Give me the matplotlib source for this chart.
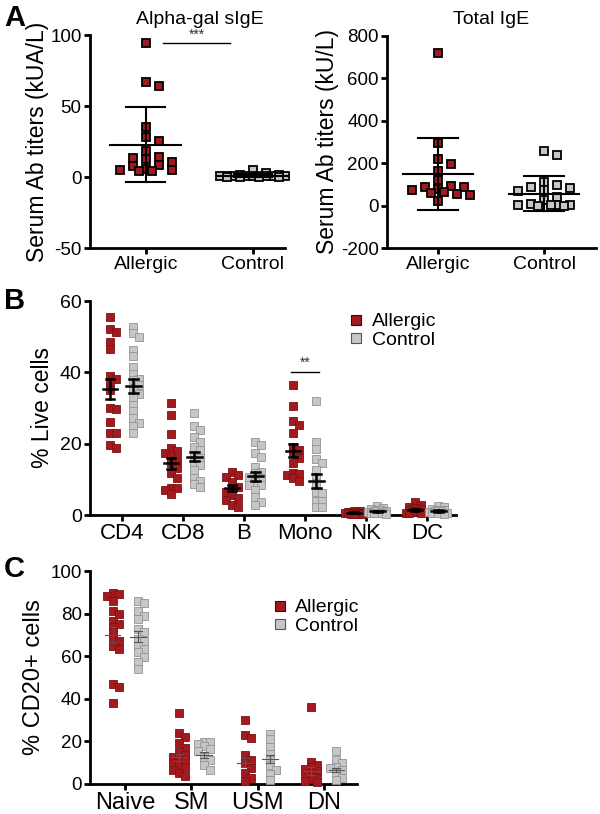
import numpy as np
import matplotlib
matplotlib.use("Agg")
import matplotlib.pyplot as plt
from matplotlib.lines import Line2D

plt.rcParams["font.family"] = ["Liberation Sans", "DejaVu Sans"]
plt.rcParams["axes.unicode_minus"] = False

ROJO = "#a3191e"
GRIS = "#c6c6c6"

# ---------------- Panel A: alpha-gal sIgE (kUA/L) ----------------
agal_alergico = [94.6, 67, 64, 35.3, 28.2, 25.2, 18.1, 14.1, 13.4, 12.7, 10.6,
                 8.7, 7.8, 5.9, 5.2, 4.7, 4.2, 4.2]
agal_control = [5.0, 3.0, 1.5, 1.2, 1.0, 0.9, 0.8, 0.7, 0.6, 0.5, 0.5, 0.4,
                0.4, 0.3, 0.3, 0.2, 0.2]
agal_media = [22.8, 1.0]
agal_sd = [26.6, 1.3]

# ---------------- Panel A: IgE total (kU/L) ----------------
ige_alergico = [718, 295, 220, 196, 162, 122, 91, 88, 88, 78, 75, 64, 60, 55,
                52, 20]
ige_control = [259, 237, 111, 96, 86, 83, 75, 71, 41, 28, 9, 5, 3, 2, 1, 0, 0]
ige_media = [149, 56]
ige_sd = [169, 82]

grupos_a = ["Allergic", "Control"]

# ---------------- Panel B: % células vivas ----------------
cat_b = ["CD4", "CD8", "B", "Mono", "NK", "DC"]
b_alergico = [
    [55.5, 52.2, 51.2, 48.5, 46.5, 39, 38, 37.3, 35, 29.9, 29.7, 26.1, 23.1,
     22.9, 19.6, 18.9],
    [31.5, 28, 22.7, 18.7, 18, 17.3, 16.3, 15.4, 14.5, 13.1, 11.7, 10.5, 7.7,
     7.7, 7, 5.9],
    [12.1, 11.2, 10.7, 9.3, 7.9, 7.5, 6.5, 5.6, 4.7, 4.2, 2.8, 2.3],
    [36.4, 30.6, 26.3, 25.2, 23, 19.1, 18.2, 17.3, 15.9, 14.5, 11.7, 11.5,
     11.2, 10.3, 9.6],
    [1.2, 1.0, 0.9, 0.8, 0.8, 0.7, 0.6, 0.6, 0.5, 0.5, 0.4, 0.4, 0.3, 0.3],
    [3.7, 2.8, 2.3, 1.9, 1.6, 1.4, 1.2, 1.0, 0.9, 0.8, 0.7, 0.6, 0.5],
]
b_control = [
    [52.6, 51, 50, 46.2, 44.6, 41.6, 39.6, 38.2, 37.8, 36.4, 35, 34, 33.1,
     30.8, 29.2, 27.1, 25.7, 24.9, 22.9],
    [28.5, 25, 23.8, 21.9, 20.5, 19.1, 18.2, 16.8, 15.9, 14.9, 14, 12.6, 10.3,
     9.6, 8.7, 7.9],
    [20.5, 19.6, 17.5, 16.3, 13.5, 12.1, 11.7, 10.7, 10.3, 9.3, 8.4, 8.4, 7,
     5.1, 3.7, 2.8],
    [31.9, 20.5, 18.4, 15.6, 14.6, 12.6, 10.7, 8.9, 6.5, 6.1, 4.0, 4.0, 2.3,
     2.3],
    [2.4, 2.0, 1.8, 1.5, 1.3, 1.2, 1.0, 0.9, 0.8, 0.7, 0.6, 0.5, 0.5, 0.4],
    [2.6, 2.2, 1.8, 1.5, 1.3, 1.1, 1.0, 0.8, 0.7, 0.6, 0.5, 0.4],
]
b_media_alergico = [35.3, 14.5, 7.5, 18.0, 0.65, 1.3]
b_sem_alergico = [2.8, 1.6, 0.8, 1.8, 0.1, 0.3]
b_media_control = [36.2, 16.4, 10.8, 9.6, 1.0, 1.1]
b_sem_control = [2.0, 1.3, 1.2, 2.0, 0.15, 0.2]

# ---------------- Panel C: % células CD20+ ----------------
cat_c = ["Naive", "SM", "USM", "DN"]
c_alergico = [
    [89.6, 89.2, 88.4, 86, 81.3, 79.8, 76.7, 75.1, 73.6, 71.2, 68.1, 67.3, 65,
     63.4, 47.1, 45.6, 37.8],
    [33.1, 23.8, 22.2, 19.1, 16.8, 15.2, 13.7, 12.9, 12.1, 11.4, 9.8, 9, 8.2,
     6.7, 5.1, 3.6],
    [30, 23, 21.5, 13.7, 11.4, 9.8, 7.5, 5.1, 2.8, 1.2],
    [36.2, 10.5, 9, 8, 7, 6, 5, 4, 3, 2.5, 1.5, 1],
]
c_control = [
    [85.7, 84.8, 81.3, 79, 77.4, 72.8, 71.2, 68.1, 67.3, 65, 63.4, 61.9, 59.6,
     57.2, 54.1],
    [19.9, 19.7, 18.7, 17.9, 16.3, 15.6, 12.9, 11.4, 9, 6.7],
    [23.5, 21, 17.6, 14, 11.4, 9, 6.7, 4.7, 2],
    [15.5, 11.4, 9.8, 8.2, 7.5, 6.7, 5.1, 2.8, 2.0],
]
c_media_alergico = [70.1, 12.5, 10.0, 6.0]
c_sem_alergico = [3.5, 1.8, 2.2, 2.0]
c_media_control = [69.2, 13.5, 11.7, 6.5]
c_sem_control = [2.6, 1.3, 1.7, 1.1]


def offsets_enjambre(ax, x0, valores, sep_px, max_px, paso_px):
    """Desplazamientos horizontales tipo 'beeswarm' calculados en píxeles."""
    valores = np.asarray(valores, dtype=float)
    pts = ax.transData.transform(np.column_stack([np.full(len(valores), x0), valores]))
    ypix = pts[:, 1]
    px_por_unidad = ax.transData.transform([[1, 0]])[0, 0] - ax.transData.transform([[0, 0]])[0, 0]
    candidatos = [0.0]
    k = 1
    while k * paso_px <= max_px:
        candidatos += [k * paso_px, -k * paso_px]
        k += 1
    colocados = []
    offs = np.zeros(len(valores))
    for i in np.argsort(-ypix):
        mejor, mejor_d = 0.0, -1.0
        for c in candidatos:
            if colocados:
                d = min(max(abs(c - cx), abs(ypix[i] - cy)) for cx, cy in colocados)
            else:
                d = np.inf
            if d >= sep_px:
                mejor = c
                break
            if d > mejor_d:
                mejor, mejor_d = c, d
        offs[i] = mejor
        colocados.append((mejor, ypix[i]))
    return offs / px_por_unidad


def puntos(ax, x0, valores, color, borde, ms, mew, sep_px, max_px, paso_px):
    dx = offsets_enjambre(ax, x0, valores, sep_px, max_px, paso_px)
    ax.plot(x0 + dx, valores, ls="none", marker="s", ms=ms, mfc=color, mec=borde,
            mew=mew, clip_on=False, zorder=3)


def barra(ax, x0, media, err, ancho_media, ancho_cap, color="black", lw=1.8):
    ax.plot([x0 - ancho_media, x0 + ancho_media], [media, media], color=color, lw=lw, zorder=4,
            clip_on=False)
    ax.plot([x0, x0], [media - err, media + err], color=color, lw=lw, zorder=4, clip_on=False)
    for y in (media - err, media + err):
        ax.plot([x0 - ancho_cap, x0 + ancho_cap], [y, y], color=color, lw=lw, zorder=4,
                clip_on=False)


def estilo(ax, fs_y, fs_x):
    for lado in ("top", "right"):
        ax.spines[lado].set_visible(False)
    for lado in ("left", "bottom"):
        ax.spines[lado].set_linewidth(2.0)
    ax.tick_params(axis="both", direction="out", length=4, width=2.0, pad=2)
    ax.tick_params(axis="y", labelsize=fs_y)
    ax.tick_params(axis="x", labelsize=fs_x)


fig = plt.figure(figsize=(6.0, 8.14), dpi=100)
W, H = 600.0, 814.0


def ejes(x0, x1, y0, y1):
    return fig.add_axes([x0 / W, 1 - y1 / H, (x1 - x0) / W, (y1 - y0) / H])


# ---- A izquierda ----
ax1 = ejes(90, 285, 35, 248)
ax1.set_xlim(-0.52, 1.30)
ax1.set_ylim(-50, 100)
ax1.set_yticks([-50, 0, 50, 100])
ax1.set_xticks([0, 1])
ax1.set_xticklabels(grupos_a)
estilo(ax1, 13.5, 14)
ax1.set_ylabel("Serum Ab titers (kUA/L)", fontsize=16.5, labelpad=1)
ax1.set_title("Alpha-gal sIgE", fontsize=14, pad=8, x=0.565)
puntos(ax1, 0, agal_alergico, ROJO, "black", 5.8, 1.3, 7.5, 34, 6.5)
puntos(ax1, 1, agal_control, GRIS, "black", 5.8, 1.3, 7.5, 34, 6.5)
for i in range(2):
    barra(ax1, i, agal_media[i], agal_sd[i], 0.33, 0.18, lw=1.5)
ax1.plot([0.16, 0.79], [94.6, 94.6], color="black", lw=1.0)
ax1.text(0.475, 95.5, "***", ha="center", va="bottom", fontsize=10, color="#333333")

# ---- A derecha ----
ax2 = ejes(387, 596, 36, 248)
ax2.set_xlim(-0.48, 1.49)
ax2.set_ylim(-200, 800)
ax2.set_yticks([-200, 0, 200, 400, 600, 800])
ax2.set_xticks([0, 1])
ax2.set_xticklabels(grupos_a)
estilo(ax2, 13.5, 14)
ax2.set_ylabel("Serum Ab titers (kU/L)", fontsize=16.5, labelpad=1)
ax2.set_title("Total IgE", fontsize=14, pad=9)
puntos(ax2, 0, ige_alergico, ROJO, "black", 5.8, 1.3, 7.5, 36, 6.5)
puntos(ax2, 1, ige_control, GRIS, "black", 5.8, 1.3, 7.5, 36, 6.5)
for i in range(2):
    barra(ax2, i, ige_media[i], ige_sd[i], 0.33, 0.19, lw=1.5)

# ---- B ----
ax3 = ejes(90, 456, 301, 515)
ax3.set_xlim(-0.52, 5.48)
ax3.set_ylim(0, 60)
ax3.set_yticks([0, 20, 40, 60])
ax3.set_xticks(range(len(cat_b)))
ax3.set_xticklabels(cat_b)
estilo(ax3, 14, 16)
ax3.set_ylabel("% Live cells", fontsize=16.5, labelpad=4)
for i in range(len(cat_b)):
    puntos(ax3, i - 0.19, b_alergico[i], ROJO, "#7a1212", 5.3, 0.6, 5.0, 10, 3.0)
    puntos(ax3, i + 0.19, b_control[i], GRIS, "#939393", 5.3, 0.6, 5.0, 10, 3.0)
    barra(ax3, i - 0.19, b_media_alergico[i], b_sem_alergico[i], 0.12, 0.07)
    barra(ax3, i + 0.19, b_media_control[i], b_sem_control[i], 0.12, 0.07)
ax3.plot([2.77, 3.23], [40, 40], color="black", lw=1.0)
ax3.text(3.0, 40.6, "**", ha="center", va="bottom", fontsize=10, color="#333333")
mano = [Line2D([], [], ls="none", marker="s", ms=7, mfc=ROJO, mec="#3a0808", mew=0.8),
        Line2D([], [], ls="none", marker="s", ms=7, mfc=GRIS, mec="#555555", mew=0.8)]
ax3.legend(mano, grupos_a, loc="upper left", bbox_to_anchor=(0.68, 0.99), frameon=False,
           fontsize=14, handlelength=0.8, handletextpad=0.4, borderpad=0, labelspacing=0.05)

# ---- C ----
ax4 = ejes(90, 357, 571, 784)
ax4.set_xlim(-0.53, 3.5)
ax4.set_ylim(0, 100)
ax4.set_yticks([0, 20, 40, 60, 80, 100])
ax4.set_xticks(range(len(cat_c)))
ax4.set_xticklabels(cat_c)
estilo(ax4, 13.5, 17)
ax4.set_ylabel("% CD20+ cells", fontsize=17, labelpad=4)
for i in range(len(cat_c)):
    puntos(ax4, i - 0.19, c_alergico[i], ROJO, "#7a1212", 5.5, 0.6, 5.0, 9, 3.0)
    puntos(ax4, i + 0.19, c_control[i], GRIS, "#939393", 5.5, 0.6, 5.0, 9, 3.0)
    barra(ax4, i - 0.19, c_media_alergico[i], c_sem_alergico[i], 0.12, 0.06,
          color="#555555", lw=0.8)
    barra(ax4, i + 0.19, c_media_control[i], c_sem_control[i], 0.12, 0.06,
          color="#555555", lw=0.8)
ax4.legend(mano, grupos_a, loc="upper left", bbox_to_anchor=(0.645, 0.915), frameon=False,
           fontsize=14, handlelength=0.8, handletextpad=0.4, borderpad=0, labelspacing=0.05)

# letras de panel
for letra, y in (("A", 4), ("B", 287), ("C", 555)):
    fig.text(4 / W, 1 - y / H, letra, fontsize=21, fontweight="bold", va="top", ha="left")

fig.savefig("out.png", dpi=100)
